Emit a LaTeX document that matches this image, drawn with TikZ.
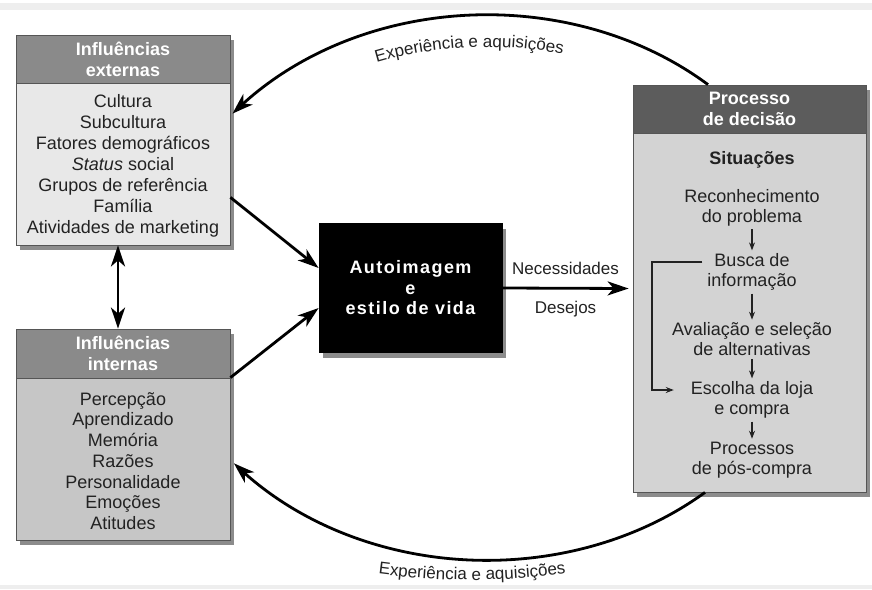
\documentclass[tikz,border=0pt]{standalone}
\usepackage{fontspec}
\setmainfont{Liberation Sans}
\usetikzlibrary{arrows.meta,shadows,decorations.text,calc,bending}
\definecolor{hdrA}{HTML}{8A8A8A}
\definecolor{bodyA}{HTML}{E8E8E8}
\definecolor{bodyB}{HTML}{C6C6C6}
\definecolor{hdrC}{HTML}{5C5C5C}
\definecolor{bodyC}{HTML}{D3D3D3}
\definecolor{edgeC}{HTML}{555555}
\definecolor{bandC}{HTML}{EEEEEE}
\definecolor{txtC}{HTML}{222222}
\newcommand\lblfont{\fontsize{17}{20}\selectfont}
\begin{document}
\begin{tikzpicture}[x=1pt,y=-1pt,
  panel/.style={draw=edgeC, line width=0.8pt, inner sep=0pt,
    drop shadow={shadow xshift=4pt, shadow yshift=-5pt, opacity=0.6, fill=black!75}},
  hdr/.style={draw=edgeC, line width=0.8pt, text=white, inner sep=0pt,
    font=\bfseries\fontsize{18}{21}\selectfont, align=center},
  bodytxt/.style={align=center, text=txtC, inner sep=0pt,
    font=\fontsize{18}{21}\selectfont},
  steptxt/.style={align=center, text=txtC, inner sep=3pt,
    font=\fontsize{18}{20}\selectfont},
  bigarrow/.style={line width=2.8pt, -{Stealth[length=21pt,width=14pt,inset=6pt]}},
  bigdouble/.style={line width=2.8pt, {Stealth[length=21pt,width=14pt,inset=6pt]}-{Stealth[length=21pt,width=14pt,inset=6pt]}},
  arcarrow/.style={line width=2.8pt, -{Stealth[length=21pt,width=14pt,inset=6pt,bend]}},
  smallarrow/.style={line width=1.2pt, txtC, -{Stealth[length=8pt,width=6pt]}},
  lbl/.style={font=\lblfont, text=txtC, inner sep=0pt}
]
\useasboundingbox (0,0) rectangle (872,589);
\fill[white] (0,0) rectangle (872,589);
\fill[bandC] (0,3) rectangle (872,10);
\fill[bandC] (0,585) rectangle (872,589);

% external influences
\node[panel, fill=bodyA, minimum width=214pt, minimum height=210pt] (ext) at (123,140) {};
\node[hdr, fill=hdrA, minimum width=214pt, minimum height=48pt] (exth) at (123,59) {Influências\\externas};
\node[bodytxt] (extb) at (123,166) {Cultura\\Subcultura\\Fatores demográficos\\\textit{Status} social\\Grupos de referência\\Família\\Atividades de marketing};

% internal influences
\node[panel, fill=bodyB, minimum width=214pt, minimum height=211pt] (int) at (123,434.5) {};
\node[hdr, fill=hdrA, minimum width=214pt, minimum height=49pt] (inth) at (123,353.5) {Influências\\internas};
\node[bodytxt, font=\fontsize{18}{20.7}\selectfont] (intb) at (123,461) {Percepção\\Aprendizado\\Memória\\Razões\\Personalidade\\Emoções\\Atitudes};

% self-image
\node[panel, draw=black, fill=black, minimum width=183pt, minimum height=129pt,
  text=white, align=center, font=\bfseries\fontsize{18}{20.5}\selectfont\addfontfeature{LetterSpace=8}] (self) at (410.5,288) {Autoimagem\\e\\estilo de vida};

% decision process
\node[panel, fill=bodyC, minimum width=233pt, minimum height=407pt] (proc) at (749.5,288.5) {};
\node[hdr, fill=hdrC, minimum width=233pt, minimum height=48pt] (proch) at (749.5,109) {Processo\\de decisão};
\node[bodytxt, font=\bfseries\fontsize{18}{20}\selectfont] (sit) at (752,160) {Situações};
\node[steptxt] (s1) at (752,207.5) {Reconhecimento\\do problema};
\node[steptxt] (s2) at (752,272) {Busca de\\informação};
\node[steptxt] (s3) at (752,339.5) {Avaliação e seleção\\de alternativas};
\node[steptxt] (s4) at (752,400) {Escolha da loja\\e compra};
\node[steptxt] (s5) at (752,460) {Processos\\de pós-compra};
\draw[smallarrow] (s1) -- (s2);
\draw[smallarrow] (s2) -- (s3);
\draw[smallarrow] (s3) -- (s4);
\draw[smallarrow] (s4) -- (s5);
\coordinate (fb) at (652,0);
\draw[smallarrow, shorten <=2pt, shorten >=14pt] ([yshift=10pt]s2.west) -- ([yshift=10pt]s2.west -| fb) |- ([yshift=10pt]s4.west);

% main connectors
\draw[bigarrow] ([yshift=48pt]ext.south east) -- ([yshift=20pt]self.west);
\draw[bigarrow] ([yshift=-49pt]int.north east) -- ([yshift=-20pt]self.west);
\draw[bigdouble] ([xshift=-5pt]ext.south) -- ([xshift=-5pt]int.north);
\draw[bigarrow] (self.east) -- node[lbl, above=12pt]{Necessidades} node[lbl, below=12pt]{Desejos} ([xshift=-4pt]proc.west);

% experience arcs
\draw[arcarrow] ([xshift=-41.5pt]proc.north) arc[start angle=-48, end angle=-140.5, x radius=330, y radius=272];
\draw[arcarrow] ([xshift=-44.5pt]proc.south) arc[start angle=48.6, end angle=140, x radius=330, y radius=272];

% arc labels
\path[decorate, decoration={text along path, text align=center, text color=txtC,
  text={|\lblfont|Experiência e aquisições}}]
  (309.2,90.6) arc[start angle=-125, end angle=-62, x radius=310, y radius=241];
\path[decorate, decoration={text along path, text align=center, text color=txtC,
  text={|\lblfont|Experiência e aquisições}}]
  ($(472,288)+(-0.2588*460,0.9659*292)$) arc[start angle=105, end angle=75, x radius=460, y radius=292];
\end{tikzpicture}
\end{document}
